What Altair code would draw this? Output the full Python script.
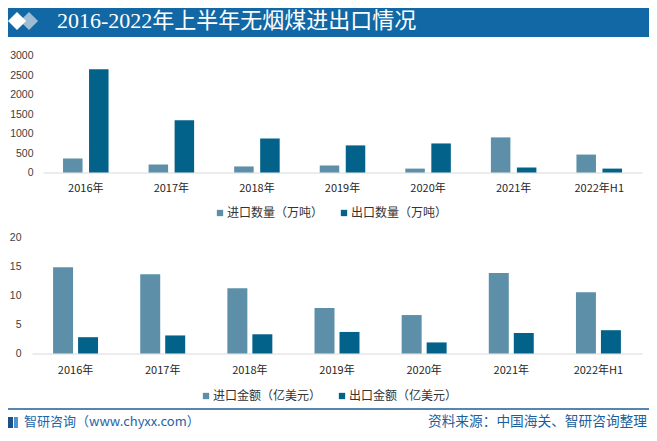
import altair as alt
import pandas as pd

# ---------------- data ----------------
title_text = "2016-2022年上半年无烟煤进出口情况"
years = ["2016年", "2017年", "2018年", "2019年", "2020年", "2021年", "2022年H1"]
vol_series = ["进口数量（万吨）", "出口数量（万吨）"]
amt_series = ["进口金额（亿美元）", "出口金额（亿美元）"]
import_vol = [360, 205, 155, 180, 100, 900, 460]
export_vol = [2650, 1340, 875, 695, 745, 128, 100]
import_amt = [14.8, 13.6, 11.2, 7.8, 6.6, 13.8, 10.5]
export_amt = [2.8, 3.1, 3.3, 3.7, 1.9, 3.5, 4.0]
vol_ticks = [0, 500, 1000, 1500, 2000, 2500, 3000]
amt_ticks = [0, 5, 10, 15, 20]
footer_left = "智研咨询（www.chyxx.com）"
footer_right = "资料来源：中国海关、智研咨询整理"

top_df = pd.DataFrame({
    "年份": years * 2,
    "指标": [vol_series[0]] * len(years) + [vol_series[1]] * len(years),
    "值": import_vol + export_vol,
})
bot_df = pd.DataFrame({
    "年份": years * 2,
    "指标": [amt_series[0]] * len(years) + [amt_series[1]] * len(years),
    "值": import_amt + export_amt,
})

W, H = 641, 424
FONT = "Noto Sans CJK SC"
C_IMP = "#5d90a8"
C_EXP = "#03628a"
one = pd.DataFrame({"k": [0]})

# ---------------- decorations ----------------
bar_bg = alt.Chart(one).mark_rect(color="#1268a5").encode(
    x=alt.value(0), x2=alt.value(W), y=alt.value(0), y2=alt.value(29))
dia_blue = alt.Chart(one).mark_point(shape="diamond", filled=True, size=330, color="#9ebcd3", opacity=1).encode(
    x=alt.value(21), y=alt.value(13))
dia_white = alt.Chart(one).mark_point(shape="diamond", filled=True, size=330, color="#ffffff", opacity=1).encode(
    x=alt.value(9), y=alt.value(13))
title = alt.Chart(one).mark_text(align="left", baseline="middle", fontSize=22,
                                 font="Liberation Serif, Noto Sans CJK SC", color="white").encode(
    x=alt.value(49), y=alt.value(13), text=alt.value(title_text))

footer_line = alt.Chart(one).mark_rule(color="#1f5d93", strokeWidth=1.5).encode(
    x=alt.value(0), x2=alt.value(W), y=alt.value(401))
logo_a = alt.Chart(one).mark_rect(color="#1d4f8a").encode(
    x=alt.value(0), x2=alt.value(5), y=alt.value(409), y2=alt.value(420))
logo_b = alt.Chart(one).mark_rect(color="#4e93d1").encode(
    x=alt.value(6), x2=alt.value(10), y=alt.value(409), y2=alt.value(420))
foot_l = alt.Chart(one).mark_text(align="left", baseline="middle", fontSize=13, font=FONT, color="#1e64a6").encode(
    x=alt.value(16), y=alt.value(414), text=alt.value(footer_left))
foot_r = alt.Chart(one).mark_text(align="right", baseline="middle", fontSize=13.7, font=FONT, color="#1a5f9e").encode(
    x=alt.value(639), y=alt.value(414), text=alt.value(footer_right))

# ---------------- top bars ----------------
top = alt.Chart(top_df).mark_bar().encode(
    x=alt.X("年份:N", sort=years,
            scale=alt.Scale(range=[35, 634], paddingInner=0.468, paddingOuter=0.234),
            axis=alt.Axis(title=None, orient="bottom", offset=-(H - 164.5), labelAngle=0, ticks=False,
                          domainColor="#d9d9d9", labelPadding=10, labelFontSize=11, labelFont=FONT,
                          labelColor="#262626")),
    xOffset=alt.XOffset("指标:N", sort=vol_series, scale=alt.Scale(paddingInner=0.25, paddingOuter=0)),
    y=alt.Y("值:Q", scale=alt.Scale(domain=[0, 3000], range=[164.5, 47.5], nice=False),
            axis=alt.Axis(title=None, orient="left", offset=-29, values=vol_ticks, format="d", domain=False,
                          ticks=False, grid=False, labelPadding=4, labelFontSize=10.5, labelColor="#404040",
                          labelFont="Liberation Sans")),
    color=alt.Color("指标:N", sort=vol_series,
                    scale=alt.Scale(domain=vol_series, range=[C_IMP, C_EXP]),
                    legend=alt.Legend(title=None, orient="none", legendX=206, legendY=199, direction="horizontal",
                                      symbolType="square", symbolSize=40, labelFontSize=12, labelFont=FONT,
                                      labelColor="#333333", columnPadding=14, labelOffset=1, padding=0)),
)

# ---------------- bottom bars ----------------
bot = alt.Chart(bot_df).mark_bar().encode(
    x=alt.X("年份:N", sort=years,
            scale=alt.Scale(range=[24, 634], paddingInner=0.484, paddingOuter=0.242),
            axis=alt.Axis(title=None, orient="bottom", offset=-(H - 345.5), labelAngle=0, ticks=False,
                          domainColor="#d9d9d9", labelPadding=11, labelFontSize=11, labelFont=FONT,
                          labelColor="#262626")),
    xOffset=alt.XOffset("指标:N", sort=amt_series, scale=alt.Scale(paddingInner=0.2, paddingOuter=0)),
    y=alt.Y("值:Q", scale=alt.Scale(domain=[0, 20], range=[345.5, 229], nice=False),
            axis=alt.Axis(title=None, orient="left", offset=-17, values=amt_ticks, format="d", domain=False,
                          ticks=False, grid=False, labelPadding=4, labelFontSize=10.5, labelColor="#404040",
                          labelFont="Liberation Sans")),
    color=alt.Color("指标:N", sort=amt_series,
                    scale=alt.Scale(domain=amt_series, range=[C_IMP, C_EXP]),
                    legend=alt.Legend(title=None, orient="none", legendX=192, legendY=382, direction="horizontal",
                                      symbolType="square", symbolSize=40, labelFontSize=12, labelFont=FONT,
                                      labelColor="#333333", columnPadding=14, labelOffset=1, padding=0)),
)

chart = alt.layer(
    bar_bg, dia_blue, dia_white, title, top, bot, footer_line, logo_a, logo_b, foot_l, foot_r
).resolve_scale(
    x="independent", y="independent", xOffset="independent", color="independent"
).resolve_axis(x="independent", y="independent").properties(
    width=W, height=H, autosize=alt.AutoSizeParams(type="none"), padding=0,
    background="white"
).configure_view(stroke=None)

chart.save("out.html", embed_options={"renderer": "svg", "actions": False})
